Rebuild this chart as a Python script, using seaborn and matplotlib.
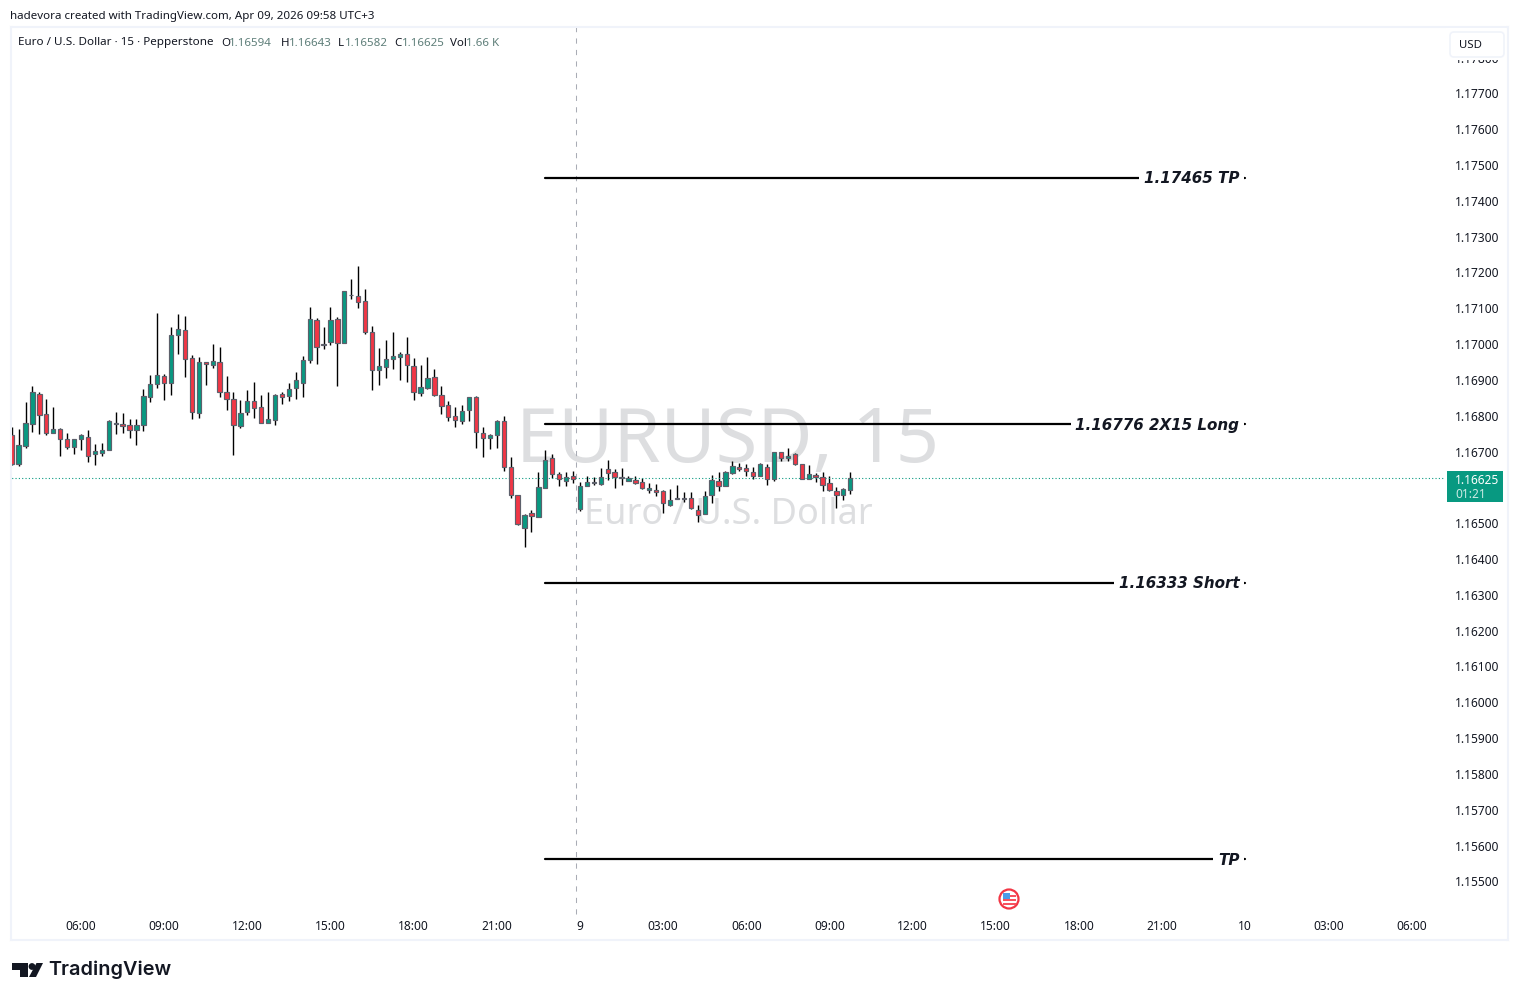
import numpy as np
import pandas as pd
import matplotlib
matplotlib.use("Agg")
import matplotlib.pyplot as plt
from matplotlib.patches import Polygon, Circle, FancyBboxPatch, Rectangle
import seaborn as sns

# ---- candle data (price = 1 + value / 100000)
opens = [16746,16665,16716,16777,16862,16806,16752,16762,16736,16713,16735,16742,16693,16696,16704,16777,16778,16775,16760,16774,
         16852,16889,16912,16892,17026,17040,16962,16808,16951,16942,16951,16865,16848,16771,16811,16842,16825,16780,16788,16862,
         16855,16878,16892,16956,17066,16999,17006,17071,17003,17138,17135,17119,17035,16928,16936,16959,16964,16973,16940,16864,
         16878,16909,16859,16831,16800,16785,16816,16853,16753,16738,16746,16784,16658,16580,16487,16528,16517,16598,16681,16636,
         16618,16633,16541,16605,16611,16610,16650,16642,16628,16619,16620,16614,16594,16594,16591,16551,16569,16569,16569,16538,
         16527,16578,16619,16605,16639,16658,16653,16643,16633,16656,16623,16698,16681,16692,16664,16622,16634,16628,16611,16591,
         16578,16594]
highs = [16769,16762,16837,16882,16865,16846,16824,16767,16751,16736,16749,16759,16720,16723,16787,16810,16807,16790,16790,16876,
         16913,17086,16916,17047,17083,17078,16969,16965,16951,16999,16991,16912,16865,16843,16871,16893,16857,16865,16862,16867,
         16892,16923,16968,17103,17074,17047,17103,17077,17147,17181,17217,17153,17050,16988,17011,17033,16977,17019,16960,16941,
         16963,16930,16884,16840,16824,16829,16851,16854,16768,16748,16787,16798,16684,16580,16527,16536,16642,16704,16693,16644,
         16642,16645,16616,16631,16630,16653,16676,16650,16653,16631,16631,16625,16611,16609,16592,16595,16608,16588,16588,16550,
         16590,16634,16642,16645,16673,16669,16665,16656,16669,16665,16698,16698,16709,16695,16665,16662,16641,16644,16631,16600,
         16597,16643]
lows = [16662,16660,16710,16754,16748,16745,16752,16687,16707,16692,16704,16670,16663,16688,16703,16748,16752,16737,16718,16757,
        16838,16877,16843,16857,16972,16907,16790,16793,16885,16932,16852,16815,16690,16766,16801,16793,16780,16780,16773,16832,
        16840,16846,16852,16946,16944,16986,16997,16882,17003,17127,17100,17027,16871,16885,16905,16930,16899,16893,16843,16854,
        16874,16855,16804,16785,16768,16776,16785,16709,16684,16706,16709,16645,16570,16495,16434,16476,16517,16597,16625,16605,
        16605,16613,16535,16605,16606,16606,16620,16599,16608,16618,16609,16595,16583,16577,16529,16549,16568,16560,16540,16504,
        16526,16557,16591,16604,16637,16646,16632,16622,16632,16607,16618,16674,16674,16663,16622,16622,16614,16591,16591,16543,
        16566,16582]
closes = [16664,16718,16781,16865,16802,16752,16762,16735,16713,16734,16745,16688,16701,16705,16785,16781,16771,16760,16773,16856,
          16890,16915,16892,17026,17043,16959,16811,16951,16945,16954,16866,16847,16774,16809,16842,16822,16781,16792,16859,16852,
          16876,16901,16957,17071,16992,16998,17066,17003,17147,17137,17118,17034,16928,16940,16959,16968,16972,16942,16866,16881,
          16906,16858,16827,16797,16788,16814,16851,16755,16738,16747,16784,16657,16579,16498,16524,16520,16602,16677,16638,16622,
          16628,16622,16605,16614,16616,16628,16639,16628,16627,16625,16613,16599,16597,16588,16555,16566,16568,16568,16543,16524,
          16575,16620,16605,16642,16661,16652,16645,16632,16665,16622,16698,16681,16689,16664,16622,16637,16628,16607,16593,16580,
          16595,16625]

y_ticks = [1.155, 1.156, 1.157, 1.158, 1.159, 1.160, 1.161, 1.162, 1.163, 1.164, 1.165,
           1.167, 1.168, 1.169, 1.170, 1.171, 1.172, 1.173, 1.174, 1.175, 1.176, 1.177, 1.178]
x_tick_bars = [10, 22, 34, 46, 58, 70, 82, 94, 106, 118, 130, 142, 154, 166, 178, 190, 202]
x_tick_labels = ["06:00", "09:00", "12:00", "15:00", "18:00", "21:00", "9", "03:00", "06:00", "09:00",
                 "12:00", "15:00", "18:00", "21:00", "10", "03:00", "06:00"]
level_prices = [1.17465, 1.16776, 1.16333, 1.15562]
level_labels = ["1.17465 TP", "1.16776 2X15 Long", "1.16333 Short", "TP"]
level_from_bar = 76.95
level_to_bar = 178.0
session_break_bar = 81.45
session_break_low = 1.15408
session_break_high = 1.17885
last_price = 1.16625
last_price_end_bar = 206.8

UP, DOWN = "#089981", "#F23645"
EDGE = "#5D606B"
INK = "#131722"
BORDER = "#F0F3FA"
WM = "#DDDEE0"

sns.set_theme(style="white")
plt.rcParams["font.family"] = ["Noto Sans", "DejaVu Sans"]

W, H = 1518, 1000
X0, PX = 11.7, 6.93
fig = plt.figure(figsize=(W / 100, H / 100), dpi=100, facecolor="white")
L, R, T, B = 10.5, 1508.0, 27.0, 940.0
ax = fig.add_axes([L / W, 1 - B / H, (R - L) / W, (B - T) / H])

df = pd.DataFrame({"i": np.arange(len(opens)),
                   "o": 1 + np.array(opens) / 1e5, "h": 1 + np.array(highs) / 1e5,
                   "l": 1 + np.array(lows) / 1e5, "c": 1 + np.array(closes) / 1e5})
df["base"] = df[["o", "c"]].min(axis=1)
df["size"] = (df["c"] - df["o"]).abs()

# watermark
ax.text((728 - X0) / PX, 1.16725, "EURUSD, 15", color=WM, fontsize=54.5, ha="center", va="center", zorder=0.1,
        fontweight="medium")
ax.text((728 - X0) / PX, 1.16522, "Euro / U.S. Dollar", color=WM, fontsize=26, ha="center", va="center", zorder=0.1)

ax.vlines(df["i"], df["l"], df["h"], color="black", lw=1.0, zorder=1)
for mask, col in [(df["c"] >= df["o"], UP), (df["c"] < df["o"], DOWN)]:
    part = df[mask]
    sns.barplot(data=part, x="i", y="size", bottom=part["base"].values, native_scale=True,
                color=col, saturation=1, width=0.62, errorbar=None, edgecolor=EDGE, linewidth=0.85,
                zorder=2, ax=ax)

ax.vlines(session_break_bar, session_break_low, session_break_high, color="#A9ACB5", lw=0.75,
          linestyles=(0, (5, 6)), zorder=0.5)
sns.lineplot(x=[-1, last_price_end_bar], y=[last_price, last_price], color=UP, lw=0.8,
             linestyle=(0, (1, 2)), errorbar=None, zorder=1.5, ax=ax)

for p, lab in zip(level_prices, level_labels):
    sns.lineplot(x=[level_from_bar, level_to_bar], y=[p, p], color="black", lw=1.6, errorbar=None, zorder=3, ax=ax)
    ax.annotate(lab, (177.15, p), xytext=(0, -0.7), textcoords="offset points", ha="right", va="center",
                fontsize=10.9, fontstyle="italic", fontweight="bold", color="#131722",
                family=["DejaVu Sans"], zorder=4, bbox=dict(fc="white", ec="none", pad=3.4))

ax.set_xlim((L - X0) / PX, (R - X0) / PX)
ax.set_ylim(1.155 + (881.4 - B) / 35820, 1.155 + (881.4 - T) / 35820)
ax.set_xlabel(""); ax.set_ylabel("")
ax.yaxis.tick_right()
ax.set_yticks(y_ticks)
ax.set_yticklabels([f"{v:.5f}" for v in y_ticks])
ax.set_xticks(x_tick_bars)
ax.set_xticklabels(x_tick_labels)
ax.tick_params(axis="y", length=0, pad=-38, labelsize=8.6, labelcolor=INK)
ax.tick_params(axis="x", length=0, pad=-14.5, labelsize=8.6, labelcolor=INK, bottom=True)
for s in ax.spines.values():
    s.set_color(BORDER); s.set_linewidth(1.5)

# overlay in pixel coordinates for chrome
ov = fig.add_axes([0, 0, 1, 1], facecolor="none")
ov.set_xlim(0, W); ov.set_ylim(H, 0); ov.axis("off")

ov.text(10, 16, "hadevora created with TradingView.com, Apr 09, 2026 09:58 UTC+3", fontsize=8.3, color=INK, va="center")
ov.text(18, 43, "Euro / U.S. Dollar · 15 · Pepperstone", fontsize=8.4, color=INK, va="center")
VAL = "#5E7E79"
for x, s, col in [(221, "O", INK), (229, "1.16594", VAL), (281, "H", INK), (289, "1.16643", VAL),
                  (338, "L", INK), (345, "1.16582", VAL), (394, "C", INK), (402, "1.16625", VAL),
                  (450, "Vol", INK), (466, "1.66 K", VAL)]:
    ov.text(x, 43, s, fontsize=8.3, color=col, va="center")

ov.add_patch(Rectangle((1446, 28), 60, 32, fc="white", ec="none", zorder=0.5))
ov.add_patch(FancyBboxPatch((1450, 32), 54, 25, boxstyle="round,pad=0,rounding_size=4", fc="white", ec=BORDER, lw=1.2))
ov.text(1459, 45, "USD", fontsize=8.2, color=INK, va="center")

ov.add_patch(Rectangle((1447, 471), 56, 31, fc=UP, ec="none"))
ov.text(1455, 480, "1.16625", fontsize=8.6, color="white", va="center", fontweight="medium")
ov.text(1455, 494, "01:21", fontsize=8.6, color="#CDEBE5", va="center", fontweight="medium")

# flag marker
ov.add_patch(Circle((1009, 899), 9.5, fc="white", ec=DOWN, lw=1.6))
for yy in (896, 900, 904):
    ov.add_patch(Rectangle((1002.5 if yy > 897 else 1009, yy - 0.8), 13 if yy > 897 else 6.5, 1.6, fc="#F7525F", ec="none"))
ov.add_patch(Rectangle((1003, 893), 7, 5.5, fc="#4D9BE8", ec="none"))

# logo
ov.add_patch(Polygon([(12, 963), (28, 963), (28, 977), (20, 977), (20, 970), (12, 970)], fc="#131722", ec="none"))
ov.add_patch(Circle((32, 966.5), 3.4, fc="#131722", ec="none"))
ov.add_patch(Polygon([(36.5, 963), (43, 963), (36, 977), (29, 977)], fc="#131722", ec="none"))
ov.text(48.5, 970, "TradingView", fontsize=14.3, color="#131722", va="center", family=["Inter", "DejaVu Sans"], fontweight="semibold")

fig.savefig("out.png", dpi=100, facecolor="white")
